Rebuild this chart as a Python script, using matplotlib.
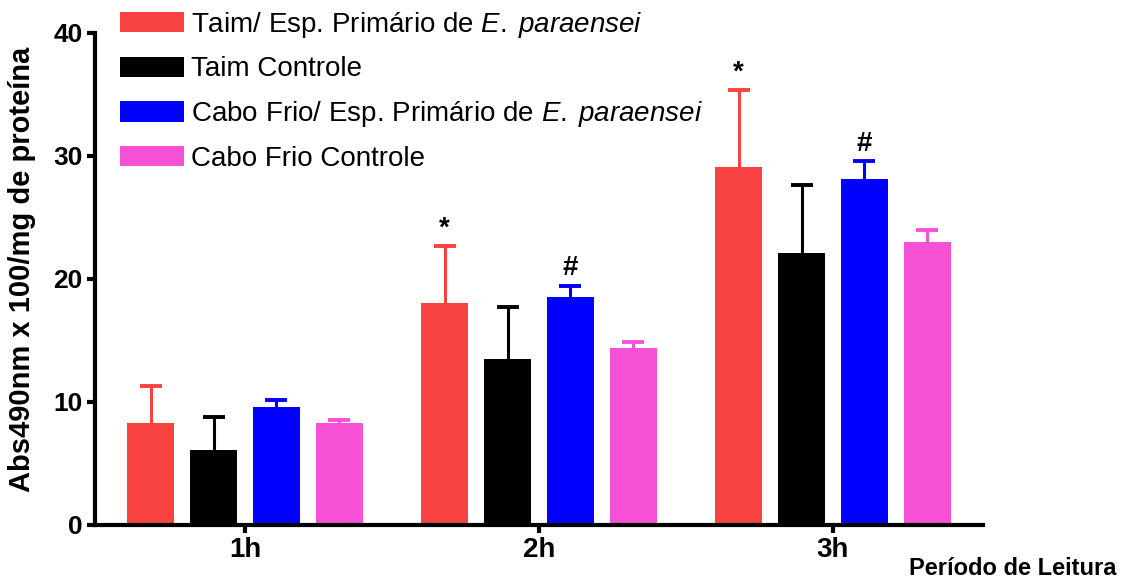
import numpy as np
import matplotlib
matplotlib.use("Agg")
import matplotlib.pyplot as plt
from matplotlib.patches import Patch

plt.rcParams["font.family"] = ["Liberation Sans", "DejaVu Sans"]
plt.rcParams["mathtext.fontset"] = "custom"
plt.rcParams["mathtext.rm"] = "Liberation Sans"
plt.rcParams["mathtext.it"] = "Liberation Sans:italic"

# dados
periodos = ["1h", "2h", "3h"]
series = [
    r"Taim/ Esp. Primário de $\it{E.\;paraensei}$",
    "Taim Controle",
    r"Cabo Frio/ Esp. Primário de $\it{E.\;paraensei}$",
    "Cabo Frio Controle",
]
taim_esp = [8.25, 18.0, 29.1]
taim_esp_err = [3.05, 4.7, 6.3]
taim_ctrl = [6.05, 13.5, 22.1]
taim_ctrl_err = [2.75, 4.2, 5.5]
cabo_esp = [9.55, 18.5, 28.15]
cabo_esp_err = [0.6, 0.95, 1.45]
cabo_ctrl = [8.25, 14.4, 23.0]
cabo_ctrl_err = [0.3, 0.5, 0.95]
marcas = [["", "*", "*"], ["", "", ""], ["", "#", "#"], ["", "", ""]]

valores = [taim_esp, taim_ctrl, cabo_esp, cabo_ctrl]
erros = [taim_esp_err, taim_ctrl_err, cabo_esp_err, cabo_ctrl_err]
cores = ["#F94343", "#000000", "#0000FF", "#F752D6"]

#%%
fig = plt.figure(figsize=(11.34, 5.78), dpi=100)
ax = fig.add_axes([0.0838, 0.092, 0.783, 0.851])

x = np.arange(len(periodos))
passo = 0.214
largura = 0.16

for i in range(4):
    pos = x + (i - 1.5) * passo
    ax.bar(pos, valores[i], width=largura, color=cores[i], zorder=2)
    eb = ax.errorbar(
        pos,
        valores[i],
        yerr=[np.zeros(3), erros[i]],
        fmt="none",
        ecolor=cores[i],
        elinewidth=2.2,
        capsize=8,
        capthick=2.8,
        zorder=1,
    )
    # so a barra de cima
    eb[1][0].set_visible(False)
    for j in range(3):
        if marcas[i][j]:
            ax.text(
                pos[j],
                valores[i][j] + erros[i][j] + 0.35,
                marcas[i][j],
                ha="center",
                va="bottom",
                fontsize=20,
                fontweight="bold",
            )

ax.set_xlim(-0.51, 2.51)
ax.set_ylim(0, 40)
ax.set_yticks([0, 10, 20, 30, 40])
ax.set_xticks(x)
ax.set_xticklabels(periodos)

for s in ["top", "right"]:
    ax.spines[s].set_visible(False)
for s in ["left", "bottom"]:
    ax.spines[s].set_linewidth(3)

ax.tick_params(axis="both", width=3, length=6, labelsize=19, pad=3)
ax.tick_params(axis="x", labelsize=20)
for lab in ax.get_xticklabels() + ax.get_yticklabels():
    lab.set_fontweight("bold")

ax.set_ylabel("Abs490nm x 100/mg de proteína", fontsize=21, fontweight="bold")
ax.yaxis.set_label_coords(-0.066, 0.52)

fig.text(0.985, 0.006, "Período de Leitura", ha="right", va="baseline",
         fontsize=17, fontweight="bold")

handles = [Patch(facecolor=c) for c in cores]
ax.legend(
    handles,
    series,
    loc="upper left",
    bbox_to_anchor=(0.106, 0.983),
    bbox_transform=fig.transFigure,
    frameon=False,
    fontsize=20,
    handlelength=2.3,
    handleheight=0.75,
    handletextpad=0.25,
    labelspacing=0.6,
    borderpad=0,
    borderaxespad=0,
)

fig.savefig("out.png", dpi=100)
